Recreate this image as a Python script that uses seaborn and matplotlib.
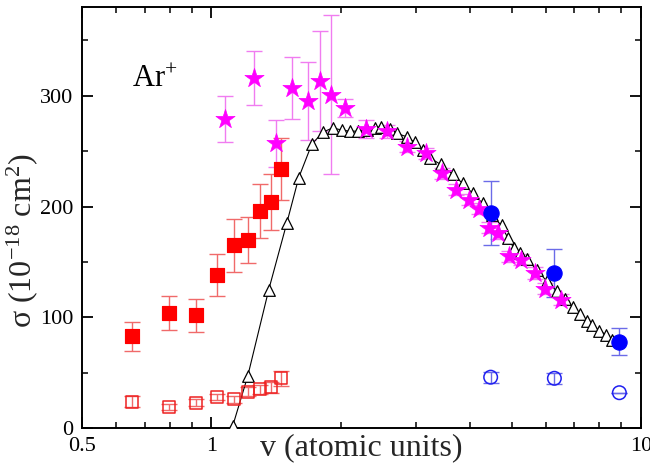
import numpy as np
import pandas as pd
import matplotlib
matplotlib.use("Agg")
import matplotlib.pyplot as plt
import seaborn as sns
from matplotlib.ticker import FixedLocator, NullFormatter, FixedFormatter

# ---------------- data ----------------
# filled red squares
sq_v = [0.653, 0.797, 0.92, 1.03, 1.13, 1.216, 1.30, 1.375, 1.45]
sq_s = [83, 104, 102, 138, 165, 170, 196, 204, 234]
sq_e = [13, 15, 15, 19, 24, 21, 24, 25, 28]
# open red squares
osq_v = [0.653, 0.797, 0.92, 1.03, 1.13, 1.216, 1.30, 1.375, 1.45]
osq_s = [24, 19, 23, 28, 26, 33, 35, 37, 45]
osq_e = [5, 3, 3, 3, 3, 4, 4, 5, 7]
# magenta stars
st_v = [1.075, 1.256, 1.413, 1.54, 1.677, 1.79, 1.897, 2.045, 2.288, 2.56,
        2.85, 3.155, 3.44, 3.72, 3.97, 4.21, 4.44, 4.66, 4.92, 5.27, 5.66, 5.97, 6.5]
st_s = [279, 316, 257, 307, 295, 313, 301, 289, 270, 268,
        254, 248, 230, 215, 206, 198, 181, 176, 155, 152, 140, 126, 116]
st_e = [21, 24, 21, 28, 35, 45, 72, 8, 8, 6,
        5, 5, 5, 5, 5, 5, 5, 5, 5, 5, 5, 5, 5]
# triangles (theory curve)
tr_v = [1.122, 1.216, 1.361, 1.499, 1.598, 1.713, 1.817, 1.917, 2.012, 2.100,
        2.192, 2.300, 2.401, 2.479, 2.602, 2.701, 2.849, 2.974, 3.105, 3.223,
        3.419, 3.646, 3.846, 4.057, 4.280, 4.492, 4.739, 4.894, 5.054, 5.245,
        5.418, 5.717, 6.030, 6.363, 6.641, 6.933, 7.197, 7.472, 7.714, 8.009,
        8.315, 8.588]
tr_s = [2, 47, 125, 185, 226, 256, 267, 271, 269, 268,
        268, 269, 271, 272, 270, 266, 263, 258, 251, 244,
        238, 229, 221, 212, 203, 192, 183, 172, 163, 158,
        153, 143, 133, 124, 117, 109, 103, 97, 93, 88,
        84, 80]
# filled blue circles
bc_v = [4.47, 6.29, 8.91]
bc_s = [194, 140, 78]
bc_e = [29, 22, 12]
# open blue circles
obc_v = [4.47, 6.29, 8.91]
obc_s = [46, 45, 32]
obc_e = [5, 5, 0]

# ---------------- style ----------------
sns.set_theme(style="ticks")
plt.rcParams['font.family'] = ['Liberation Serif', 'DejaVu Serif']
plt.rcParams['mathtext.fontset'] = 'custom'
plt.rcParams['mathtext.rm'] = 'Liberation Serif'
plt.rcParams['mathtext.it'] = 'Liberation Serif:italic'

fig = plt.figure(figsize=(6.5, 4.7), dpi=100)
ax = fig.add_axes([0.126, 0.089, 0.86, 0.896])

# error bars
ax.errorbar(sq_v, sq_s, yerr=sq_e, fmt='none', ecolor='#f06a6a', elinewidth=1, capsize=6, capthick=1, zorder=2)
ax.errorbar(osq_v, osq_s, yerr=osq_e, fmt='none', ecolor='#f06a6a', elinewidth=1, capsize=6, capthick=1, zorder=2)
ax.errorbar(st_v, st_s, yerr=st_e, fmt='none', ecolor='#f07cf0', elinewidth=1, capsize=6, capthick=1, zorder=2)
ax.errorbar(bc_v, bc_s, yerr=bc_e, fmt='none', ecolor='#6b6be8', elinewidth=1, capsize=6, capthick=1, zorder=2)
ax.errorbar(obc_v, obc_s, yerr=obc_e, fmt='none', ecolor='#6b6be8', elinewidth=1, capsize=6, capthick=1, zorder=2)

# theory line + triangles
df_tr = pd.DataFrame({'v': tr_v, 's': tr_s})
sns.lineplot(data=df_tr, x='v', y='s', ax=ax, color='black', linewidth=0.8, zorder=3)
sns.scatterplot(data=df_tr, x='v', y='s', ax=ax, marker='^', s=70, facecolor='white',
                edgecolor='black', linewidth=0.9, zorder=4)

# squares
sns.scatterplot(x=sq_v, y=sq_s, ax=ax, marker='s', s=110, color='#ff0000', edgecolor='#ff0000', zorder=5)
sns.scatterplot(x=osq_v, y=osq_s, ax=ax, marker='s', s=75, facecolor='none', edgecolor='#ee2020',
                linewidth=1.1, zorder=5)
# stars
sns.scatterplot(x=st_v, y=st_s, ax=ax, marker='*', s=210, color='#ff00ff', edgecolor='#ff00ff',
                linewidth=0.5, zorder=5)
# blue circles
sns.scatterplot(x=bc_v, y=bc_s, ax=ax, marker='o', s=120, color='#0000ff', edgecolor='#0000ff', zorder=6)
sns.scatterplot(x=obc_v, y=obc_s, ax=ax, marker='o', s=95, facecolor='none', edgecolor='#2020f0',
                linewidth=1.1, zorder=6)

# axes
ax.set_xscale('log')
ax.set_xlim(0.5, 10)
ax.set_ylim(0, 380)
ax.xaxis.set_major_locator(FixedLocator([0.5, 1, 10]))
ax.xaxis.set_major_formatter(FixedFormatter(['0.5', '1', '10']))
ax.xaxis.set_minor_locator(FixedLocator([0.6, 0.7, 0.8, 0.9, 2, 3, 4, 5, 6, 7, 8, 9]))
ax.xaxis.set_minor_formatter(NullFormatter())
ax.yaxis.set_major_locator(FixedLocator([0, 100, 200, 300]))
ax.yaxis.set_minor_locator(FixedLocator([50, 150, 250, 350]))

for sp in ax.spines.values():
    sp.set_linewidth(1.4)
    sp.set_color('black')
    sp.set_visible(True)
ax.tick_params(which='both', direction='in', top=True, right=True, colors='black', labelsize=16)
ax.tick_params(which='major', length=8, width=1.3, pad=6)
ax.tick_params(which='minor', length=4.5, width=1.1)

ax.set_xlabel('v (atomic units)', fontsize=23, va='top')
ax.xaxis.set_label_coords(0.5, -0.012)
ax.set_ylabel(r'σ (10$^{\mathrm{-18}}$ cm$^{\mathrm{2}}$)', fontsize=23)
ax.yaxis.set_label_coords(-0.075, 0.444)

ax.text(0.09, 0.81, r'Ar$^{\mathrm{+}}$', transform=ax.transAxes, fontsize=22, color='black')

fig.savefig('out.png', dpi=100)
